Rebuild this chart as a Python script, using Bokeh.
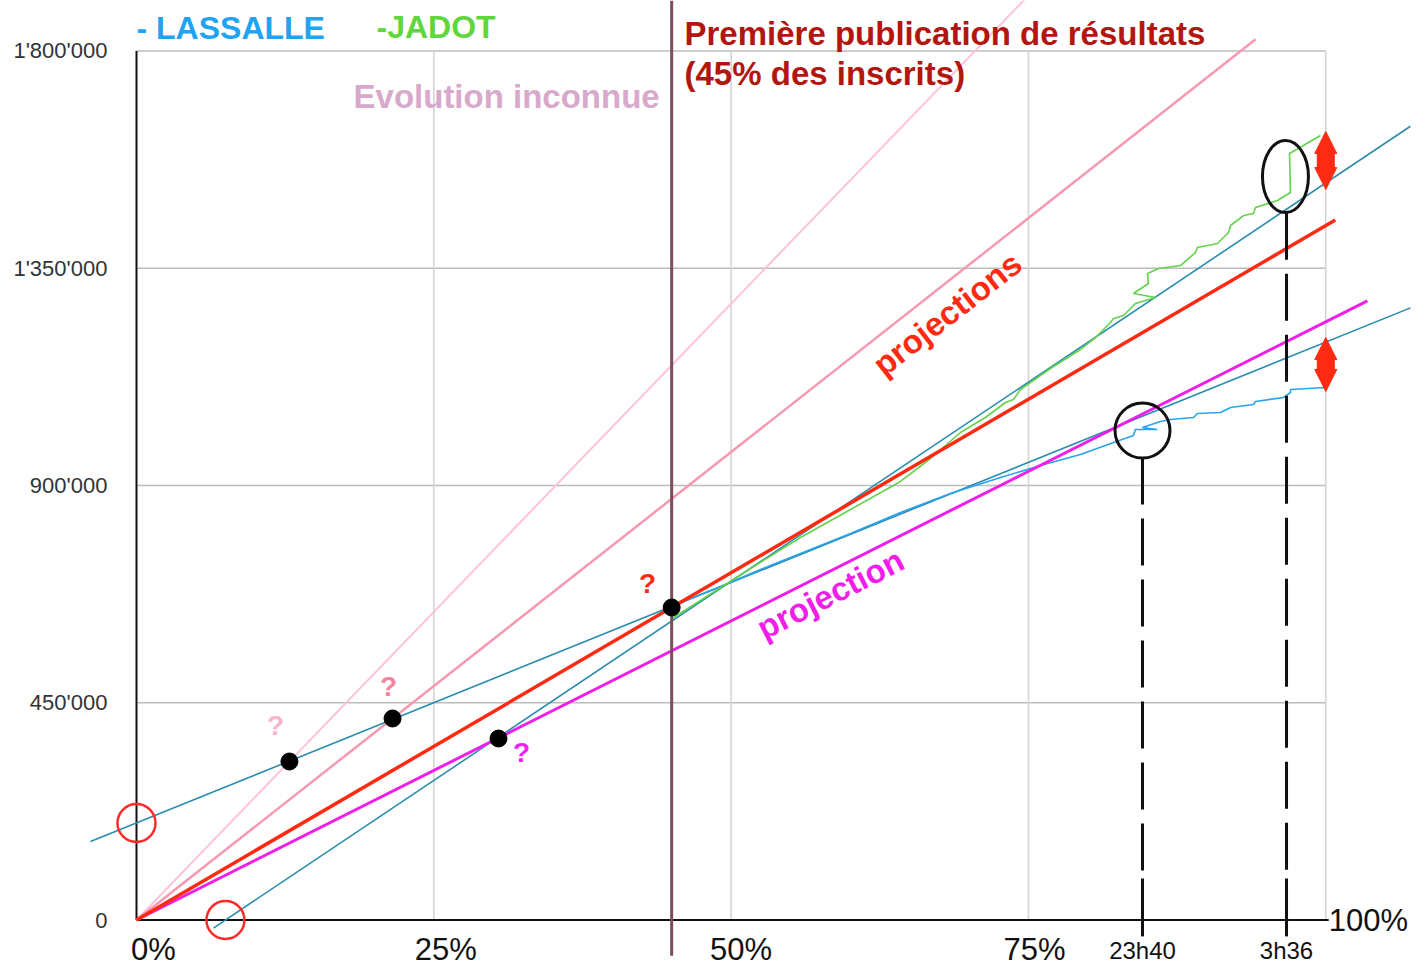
from bokeh.plotting import figure
from bokeh.models import Range1d, Arrow, NormalHead
from bokeh.core.properties import value
from bokeh.embed import file_html
from bokeh.resources import INLINE
import math

# ---------------- data ----------------
y_ticks = [0, 450000, 900000, 1350000, 1800000]
y_tick_labels = ["0", "450'000", "900'000", "1'350'000", "1'800'000"]
x_ticks = [0, 25, 50, 75]
x_tick_labels = ["0%", "25%", "50%", "75%"]
x_end_tick = 100
x_end_label = "100%"
time_pct = [84.59, 96.70]
time_labels = ["23h40", "3h36"]
first_publication_pct = 45.0

dot_pct = [12.86, 21.53, 30.44, 45.0]
dot_votes = [328300, 417400, 375900, 647300]

proj_pale_pct = [0, 75.0]
proj_pale_votes = [0, 1914800]
proj_pink_pct = [0, 94.1]
proj_pink_votes = [0, 1824300]
proj_red_pct = [0, 100.8]
proj_red_votes = [0, 1449900]
proj_magenta_pct = [0, 103.5]
proj_magenta_votes = [0, 1282400]
trend_low_pct = [-3.87, 107.12]
trend_low_votes = [162500, 1267900]
trend_high_pct = [6.47, 107.12]
trend_high_votes = [-16700, 1644100]

jadot_pct = [45.0, 47.42, 51.63, 55.83, 60.04, 64.24, 66.76, 69.28, 71.38, 73.07, 73.74,
             74.33, 76.85, 79.37, 80.64, 81.90, 82.15, 82.99, 84.00, 85.68, 83.83, 85.09,
             85.01, 85.93, 87.78, 89.04, 89.21, 90.89, 91.82, 91.99, 93.08, 93.92, 94.09,
             95.94, 97.03, 96.95, 99.55]
jadot_votes = [624000, 661800, 728100, 792300, 850300, 908300, 955900, 1009800, 1040800,
               1071900, 1078100, 1098800, 1142300, 1181700, 1206500, 1237500, 1245800,
               1252000, 1276900, 1289300, 1297600, 1318300, 1339000, 1349400, 1355600,
               1382500, 1392900, 1401200, 1424000, 1438500, 1459200, 1463300, 1475700,
               1490200, 1506800, 1587600, 1624900]

lassalle_pct = [45.0, 46.58, 49.10, 52.47, 55.83, 60.04, 64.24, 68.44, 72.65, 76.01, 79.37,
                82.15, 83.83, 83.99, 85.84, 84.58, 86.10, 86.94, 88.88, 89.21, 91.15, 91.99,
                93.92, 94.09, 96.45, 97.03, 97.03, 99.97]
lassalle_votes = [647300, 665900, 690800, 726000, 759200, 800600, 844100, 883500, 916600,
                  941500, 964300, 989100, 1003600, 1016000, 1016000, 1020200, 1032600,
                  1036700, 1040900, 1049200, 1051200, 1061600, 1067800, 1074000, 1082300,
                  1092600, 1098800, 1103000]

question_pct = [11.69, 21.19, 32.37, 42.97]
question_votes = [402900, 483600, 346900, 697000]
question_colors = ["#f9b3cd", "#f7829f", "#ee22ee", "#ff2a12"]

red_circle_pct = [0.0, 7.48]
red_circle_votes = [201000, 0]

jump_circle_pct = [84.59]
jump_circle_votes = [1013900]
jump_ellipse_pct = [96.61]
jump_ellipse_votes = [1539900]

gap_pct = [100.0, 100.0]
gap_low = [1513000, 1094700]
gap_high = [1633200, 1206500]

# ---------------- styling ----------------
FONT = value("Liberation Sans")
RED = "#ff2a12"
TEAL = "#2a8cae"

X0, X1 = -11.435, 108.47
Y0, Y1 = -96315, 1904560

p = figure(width=1426, height=966, x_range=Range1d(X0, X1), y_range=Range1d(Y0, Y1),
           x_axis_type=None, y_axis_type=None, output_backend="svg",
           toolbar_location=None, min_border=0)
p.grid.visible = False
p.outline_line_color = None
p.background_fill_color = "white"
p.border_fill_color = "white"

ymax = y_ticks[-1]
# horizontal grid
p.segment(x0=[0] * 4, y0=y_ticks[1:], x1=[x_end_tick] * 4, y1=y_ticks[1:],
          line_color="#bcbcbc", line_width=1.6)
# vertical grid
p.segment(x0=x_ticks[1:] + [x_end_tick], y0=[0] * 4, x1=x_ticks[1:] + [x_end_tick], y1=[ymax] * 4,
          line_color="#d4d4d8", line_width=1.6)
# axes lines
p.segment(x0=[0, 0], y0=[0, 0], x1=[0, x_end_tick + 0.25], y1=[ymax, 0],
          line_color="#111111", line_width=2)

# projections from origin
p.line(proj_pale_pct, proj_pale_votes, line_color="#ffc2d8", line_width=2)
p.line(proj_pink_pct, proj_pink_votes, line_color="#f799b0", line_width=2.5)

# trend lines
p.line(trend_low_pct, trend_low_votes, line_color=TEAL, line_width=1.6)
p.line(trend_high_pct, trend_high_votes, line_color=TEAL, line_width=1.6)

# data curves
p.line(lassalle_pct, lassalle_votes, line_color="#27a4ef", line_width=1.6)
p.line(jadot_pct, jadot_votes, line_color="#62d34a", line_width=1.6)

p.line(proj_magenta_pct, proj_magenta_votes, line_color="#f01ee8", line_width=3)
p.line(proj_red_pct, proj_red_votes, line_color=RED, line_width=3.5)

# first publication vertical
p.segment(x0=[first_publication_pct], y0=[-74000], x1=[first_publication_pct], y1=[Y1],
          line_color="#7d4b5b", line_width=3)

# dots
p.scatter(dot_pct, dot_votes, size=17, fill_color="black", line_color="black")

# question marks
p.text(question_pct, question_votes, text=["?"] * 4, text_color=question_colors,
       text_font=FONT, text_font_style="bold", text_font_size="28px",
       text_align="center", text_baseline="middle")

# red circles
p.scatter(red_circle_pct, red_circle_votes, size=38, fill_alpha=0, line_color="#ff2a2a",
          line_width=2.5)

# dashed time markers
for xp, ytop in zip(time_pct, [jump_circle_votes[0] - 56000, jump_ellipse_votes[0] - 75000]):
    p.line([xp, xp], [ytop, -30000], line_color="#111111", line_width=3, line_dash="47 14")
    p.line([xp, xp], [86000, -34000], line_color="#111111", line_width=3)

# black jump markers
p.scatter(jump_circle_pct, jump_circle_votes, size=55, fill_alpha=0, line_color="#111111",
          line_width=3)
p.ellipse(jump_ellipse_pct, jump_ellipse_votes, width=46, height=72, width_units="screen",
          height_units="screen", fill_alpha=0, line_color="#111111", line_width=3)

# gap arrows
for xg, lo, hi in zip(gap_pct, gap_low, gap_high):
    p.add_layout(Arrow(start=NormalHead(size=22, fill_color=RED, line_color=RED),
                       end=NormalHead(size=22, fill_color=RED, line_color=RED),
                       x_start=xg, y_start=lo, x_end=xg, y_end=hi,
                       line_color=RED, line_width=8))
    p.scatter([xg], [(lo + hi) / 2], marker="square", size=17, fill_color=RED, line_color=RED)

# axis tick labels
p.text([-2.44] * len(y_ticks), y_ticks, text=y_tick_labels, text_font=FONT,
       text_font_size="22px", text_color="#333333", text_align="right",
       text_baseline="middle")
p.text(x_ticks, [0] * len(x_ticks), text=x_tick_labels, text_font=FONT,
       text_font_size="31px", text_color="#111111", text_align="center",
       text_baseline="middle", x_offset=[17, 12, 10, 6], y_offset=29)
p.text([x_end_tick], [0], text=[x_end_label], text_font=FONT, text_font_size="31px",
       text_color="#111111", text_align="left", text_baseline="middle", x_offset=3)
p.text(time_pct, [0] * 2, text=time_labels, text_font=FONT, text_font_size="24px",
       text_color="#111111", text_align="center", text_baseline="bottom", y_offset=44)

# headers
p.text([0.0], [1846600], text=["- LASSALLE"], text_font=FONT, text_font_style="bold",
       text_font_size="32px", text_color="#1fa3f2", text_baseline="middle")
p.text([20.18], [1850700], text=["-JADOT"], text_font=FONT, text_font_style="bold",
       text_font_size="32px", text_color="#5fd63c", text_baseline="middle")
p.text([18.25], [1705800], text=["Evolution inconnue"], text_font=FONT,
       text_font_style="bold", text_font_size="33px", text_color="#d8a9cb",
       text_baseline="middle")
p.text([46.08, 46.08], [1836000, 1753000],
       text=["Première publication de résultats", "(45% des inscrits)"], text_font=FONT,
       text_font_style="bold", text_font_size="33px", text_color="#b3150f",
       text_baseline="middle")

# rotated labels
p.text([68.17], [1255600], text=["projections"], angle=math.radians(38), text_font=FONT,
       text_font_style="bold", text_font_size="33px", text_color=RED,
       text_align="center", text_baseline="middle")
p.text([58.35], [675700], text=["projection"], angle=math.radians(27), text_font=FONT,
       text_font_style="bold", text_font_size="33px", text_color="#f01ee8",
       text_align="center", text_baseline="middle")

open("out.html", "w").write(file_html(p, INLINE))
